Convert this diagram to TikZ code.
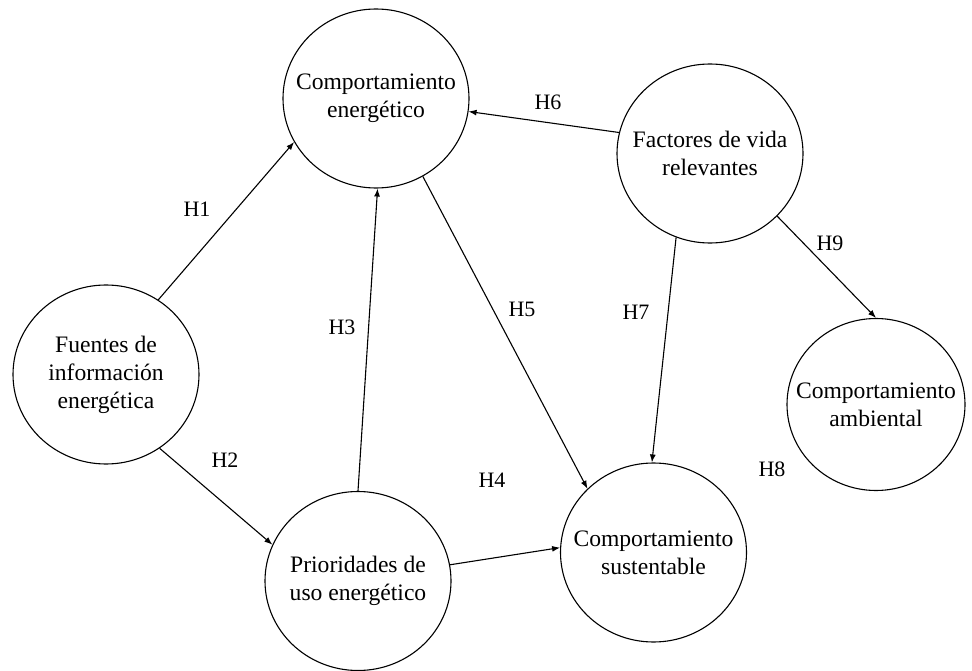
\documentclass[tikz,border=0pt]{standalone}
\usepackage{fontspec}
\setmainfont{Liberation Serif}
\usetikzlibrary{shapes.geometric,arrows.meta}
\begin{document}
\begin{tikzpicture}[x=1pt,y=-1pt,
  construct/.style={draw,ellipse,line width=1.1pt,inner sep=0pt,
    minimum width=186pt,minimum height=179pt},
  ctext/.style={align=center,inner sep=0pt,
    font=\fontsize{23.6}{28}\selectfont},
  link/.style={line width=1.1pt,-{Latex[length=8pt,width=6pt]}},
  hyp/.style={font=\fontsize{22}{26}\selectfont,inner sep=0pt}]
\useasboundingbox (0,0) rectangle (972,671);
\node[construct] (ener) at (376,98.5) {};
\node[ctext] (enert) at (ener) {Comportamiento\\energético};
\node[construct] (fact) at (710,153.5) {};
\node[ctext] (factt) at (fact) {Factores de vida\\relevantes};
\node[construct] (fuen) at (106,374.5) {};
\node[ctext] (fuent) at (fuen) {Fuentes de\\información\\energética};
\node[construct] (prio) at (358,581) {};
\node[ctext] (priot) at (prio) {Prioridades de\\uso energético};
\node[construct] (sust) at (653.5,552.5) {};
\node[ctext] (sustt) at (sust) {Comportamiento\\sustentable};
\node[construct,minimum width=178pt,minimum height=172pt] (amb) at (876,404.5) {};
\node[ctext] (ambt) at (amb) {Comportamiento\\ambiental};
\draw[link] (fuen.55.8) -- (ener.208.8);
\draw[link] (fuen.-54.7) -- (prio.157.6);
\draw[link] (prio.north) -- (ener.-89);
\draw[link] (prio.10.6) -- (sust.177);
\draw[link] (ener.-59.6) -- (sust.136.3);
\draw[link] (fact.167.3) -- (ener.-8.5);
\draw[link] (fact.-112.2) -- (sust.91.5);
\draw[link] (fact.-43.9) -- (amb.north);
\node[hyp] (h1) at (197,209) {H1};
\node[hyp] (h2) at (225,460) {H2};
\node[hyp] (h3) at (342,327) {H3};
\node[hyp] (h4) at (492,480) {H4};
\node[hyp] (h5) at (522,309) {H5};
\node[hyp] (h6) at (548,102) {H6};
\node[hyp] (h7) at (636,312) {H7};
\node[hyp] (h8) at (772,469) {H8};
\node[hyp] (h9) at (830,243) {H9};
\end{tikzpicture}
\end{document}
